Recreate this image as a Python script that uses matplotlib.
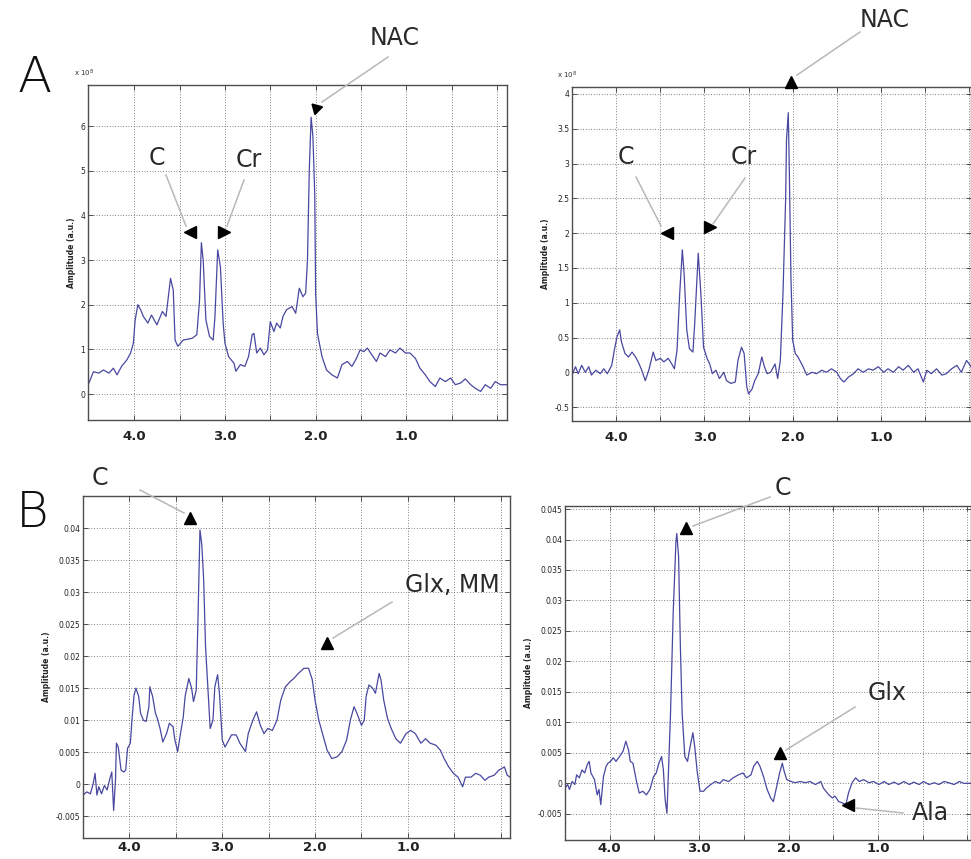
import matplotlib
matplotlib.use("Agg")
import matplotlib.pyplot as plt
from matplotlib.lines import Line2D

W, H = 971, 859

# ---------------- data (ppm, amplitude) ----------------
a1_ppm = [4.50,4.45,4.39,4.34,4.28,4.23,4.19,4.14,4.08,4.04,4.01,3.99,3.96,3.93,3.90,3.85,3.81,3.75,3.69,3.65,
          3.60,3.57,3.55,3.52,3.46,3.36,3.31,3.28,3.26,3.24,3.21,3.17,3.13,3.11,3.08,3.05,3.02,3.00,2.96,2.90,
          2.88,2.83,2.78,2.74,2.70,2.68,2.65,2.61,2.57,2.53,2.50,2.46,2.43,2.39,2.36,2.32,2.26,2.22,2.18,2.14,
          2.11,2.09,2.07,2.05,2.03,2.01,2.00,1.98,1.93,1.88,1.82,1.76,1.71,1.65,1.60,1.55,1.51,1.47,1.43,1.38,
          1.33,1.29,1.23,1.18,1.12,1.07,1.01,0.96,0.90,0.85,0.79,0.74,0.68,0.63,0.57,0.51,0.46,0.40,0.35,0.29,
          0.24,0.18,0.13,0.07,0.02,-0.04,-0.11]
a1_amp = [0.25,0.50,0.47,0.54,0.47,0.58,0.43,0.62,0.77,0.92,1.14,1.66,2.00,1.89,1.74,1.59,1.77,1.55,1.85,1.74,
          2.59,2.33,1.21,1.07,1.21,1.25,1.33,2.11,3.39,3.00,1.66,1.29,1.21,1.74,3.23,2.85,1.59,1.14,0.84,0.69,
          0.51,0.66,0.62,0.84,1.33,1.36,0.92,1.03,0.88,0.99,1.62,1.40,1.59,1.48,1.74,1.89,1.96,1.81,2.37,2.18,
          2.26,3.00,5.01,6.20,5.76,4.49,2.26,1.36,0.84,0.54,0.43,0.36,0.66,0.73,0.62,0.80,0.99,0.95,1.03,0.88,
          0.73,0.92,0.84,0.99,0.92,1.03,0.92,0.92,0.80,0.58,0.43,0.28,0.17,0.36,0.28,0.36,0.21,0.25,0.34,0.21,
          0.13,0.06,0.21,0.13,0.28,0.21,0.21]

a2_ppm = [4.50,4.46,4.43,4.39,4.35,4.31,4.28,4.23,4.18,4.14,4.10,4.05,4.02,3.99,3.96,3.94,3.90,3.86,3.82,3.78,
          3.75,3.71,3.67,3.63,3.58,3.55,3.50,3.46,3.41,3.37,3.34,3.31,3.28,3.25,3.23,3.20,3.17,3.13,3.11,3.07,
          3.04,3.01,2.97,2.94,2.91,2.87,2.83,2.78,2.75,2.70,2.65,2.62,2.58,2.55,2.52,2.50,2.46,2.43,2.39,2.35,
          2.32,2.29,2.25,2.20,2.17,2.14,2.11,2.08,2.07,2.05,2.04,2.02,2.00,1.97,1.94,1.89,1.84,1.78,1.73,1.67,
          1.62,1.56,1.50,1.46,1.42,1.37,1.31,1.26,1.20,1.14,1.09,1.03,0.97,0.92,0.86,0.80,0.75,0.69,0.63,0.58,
          0.52,0.48,0.43,0.37,0.31,0.26,0.20,0.14,0.09,0.03,-0.02]
a2_amp = [-0.04,0.08,-0.02,0.10,0.0,0.08,-0.04,0.03,-0.02,0.05,-0.02,0.10,0.32,0.51,0.61,0.44,0.27,0.22,0.29,0.22,
          0.15,0.03,-0.12,0.03,0.29,0.17,0.20,0.15,0.20,0.12,0.05,0.32,1.13,1.76,1.42,0.61,0.34,0.29,0.70,1.71,
          1.13,0.36,0.20,0.12,-0.02,0.03,-0.09,0.0,-0.12,-0.16,-0.14,0.17,0.36,0.27,-0.21,-0.31,-0.24,-0.12,-0.02,0.22,
          0.08,-0.02,0.0,0.12,-0.09,0.17,1.13,2.48,3.34,3.73,3.05,1.37,0.46,0.27,0.22,0.10,-0.04,0.0,-0.02,0.03,
          0.0,0.05,0.0,-0.09,-0.14,-0.07,-0.02,0.05,0.0,0.05,0.03,0.08,0.0,0.05,0.0,0.08,0.03,0.10,0.0,0.05,
          -0.14,0.03,-0.02,0.05,-0.04,-0.02,0.05,0.10,0.0,0.17,0.08]

b1_ppm = [4.50,4.46,4.42,4.39,4.37,4.35,4.33,4.30,4.27,4.24,4.21,4.19,4.17,4.15,4.14,4.12,4.09,4.06,4.04,4.02,
          3.99,3.97,3.95,3.93,3.90,3.88,3.85,3.82,3.79,3.78,3.75,3.72,3.70,3.67,3.64,3.60,3.57,3.53,3.51,3.48,
          3.45,3.42,3.40,3.36,3.33,3.31,3.28,3.26,3.24,3.22,3.20,3.18,3.15,3.13,3.10,3.08,3.05,3.03,3.00,2.97,
          2.93,2.90,2.85,2.81,2.75,2.72,2.67,2.63,2.59,2.55,2.51,2.46,2.41,2.37,2.32,2.27,2.23,2.18,2.12,2.07,
          2.03,2.00,1.96,1.91,1.87,1.82,1.76,1.71,1.66,1.62,1.58,1.55,1.50,1.47,1.45,1.42,1.38,1.35,1.31,1.29,
          1.26,1.22,1.18,1.13,1.08,1.02,0.97,0.92,0.86,0.81,0.76,0.70,0.65,0.61,0.56,0.51,0.46,0.41,0.38,0.32,
          0.27,0.22,0.17,0.13,0.07,0.02,-0.04,-0.07,-0.10]
b1_amp = [-0.0017,-0.0012,-0.0015,0.0001,0.0017,-0.0017,-0.0004,-0.0015,-0.0002,-0.0009,
          0.0009,0.0019,-0.0041,0.0006,0.0064,0.0058,0.0022,0.0019,0.0022,0.0056,
          0.0064,0.0105,0.0139,0.0150,0.0137,0.0111,0.0100,0.0098,0.0121,0.0152,
          0.0137,0.0111,0.0103,0.0087,0.0066,0.0079,0.0095,0.0090,0.0069,0.0051,
          0.0079,0.0105,0.0137,0.0165,0.0150,0.0129,0.0147,0.0267,0.0397,0.0374,
          0.0319,0.0215,0.0137,0.0087,0.0100,0.0152,0.0171,0.0142,0.0069,0.0058,
          0.0069,0.0077,0.0077,0.0064,0.0051,0.0079,0.0100,0.0113,0.0092,0.0079,
          0.0087,0.0084,0.0100,0.0131,0.0152,0.0160,0.0165,0.0173,0.0181,0.0181,
          0.0163,0.0131,0.0100,0.0074,0.0053,0.0040,0.0043,0.0051,0.0069,0.0100,
          0.0121,0.0111,0.0092,0.0100,0.0137,0.0155,0.0150,0.0142,0.0173,0.0163,
          0.0131,0.0103,0.0087,0.0071,0.0064,0.0079,0.0084,0.0079,0.0064,0.0071,
          0.0064,0.0061,0.0053,0.0040,0.0027,0.0017,0.0011,-0.0004,0.0011,0.0011,
          0.0017,0.0014,0.0006,0.0011,0.0014,0.0022,0.0027,0.0014,0.0011]

b2_ppm = [4.50,4.47,4.45,4.42,4.39,4.37,4.34,4.31,4.28,4.25,4.23,4.21,4.17,4.14,4.12,4.10,4.07,4.04,4.02,3.99,
          3.96,3.93,3.89,3.85,3.82,3.79,3.77,3.74,3.70,3.67,3.63,3.59,3.55,3.51,3.48,3.45,3.42,3.40,3.38,3.36,
          3.35,3.32,3.29,3.26,3.25,3.23,3.21,3.19,3.16,3.13,3.10,3.07,3.05,3.02,2.99,2.95,2.92,2.87,2.82,2.77,
          2.73,2.67,2.62,2.56,2.51,2.47,2.42,2.39,2.35,2.32,2.28,2.24,2.20,2.17,2.14,2.10,2.07,2.05,2.02,1.97,
          1.93,1.87,1.81,1.76,1.70,1.64,1.61,1.55,1.51,1.48,1.44,1.40,1.36,1.33,1.29,1.25,1.21,1.16,1.10,1.05,
          0.99,0.93,0.88,0.82,0.77,0.71,0.65,0.60,0.54,0.49,0.43,0.37,0.32,0.26,0.21,0.15,0.09,0.04,-0.05]
b2_amp = [-0.0008,-0.0002,-0.0010,0.0003,-0.0002,0.0014,0.0009,0.0022,0.0017,0.0031,
          0.0036,0.0017,0.0006,-0.0019,-0.0010,-0.0035,0.0011,0.0028,0.0033,0.0036,
          0.0042,0.0036,0.0044,0.0053,0.0069,0.0055,0.0036,0.0033,0.0003,-0.0016,
          -0.0013,-0.0019,-0.0010,0.0011,0.0017,0.0033,0.0044,0.0022,-0.0027,-0.0049,
          -0.0010,0.0115,0.0280,0.0395,0.0410,0.0373,0.0225,0.0115,0.0044,0.0036,
          0.0061,0.0083,0.0061,0.0017,-0.0013,-0.0013,-0.0008,-0.0002,0.0003,0.0,
          0.0006,0.0003,0.0009,0.0014,0.0017,0.0009,0.0014,0.0028,0.0036,0.0028,
          0.0011,-0.0010,-0.0024,-0.0030,-0.0010,0.0017,0.0033,0.0020,0.0006,0.0003,
          0.0001,0.0003,0.0001,0.0003,-0.0002,0.0003,-0.0008,-0.0019,-0.0024,-0.0021,
          -0.0030,-0.0032,-0.0035,-0.0016,0.0001,0.0009,0.0003,0.0006,0.0001,0.0003,
          -0.0002,0.0003,-0.0002,0.0002,-0.0002,0.0003,-0.0002,0.0002,-0.0002,0.0003,
          -0.0002,0.0001,-0.0002,0.0003,0.0001,-0.0002,0.0003,0.0,0.0]

xticks = [4.0, 3.5, 3.0, 2.5, 2.0, 1.5, 1.0, 0.5, 0.0]
xticklabels = ['4.0', '', '3.0', '', '2.0', '', '1.0', '', '']

a1_yticks = [0, 1, 2, 3, 4, 5, 6]
a2_yticks = [-0.5, 0, 0.5, 1, 1.5, 2, 2.5, 3, 3.5, 4]
b1_yticks = [-0.005, 0, 0.005, 0.01, 0.015, 0.02, 0.025, 0.03, 0.035, 0.04]
b2_yticks = [-0.005, 0, 0.005, 0.01, 0.015, 0.02, 0.025, 0.03, 0.035, 0.04, 0.045]

# annotations: label, text pos (px), line start (px), line end (px), head (data), marker
a1_notes = [("NAC", (395, 38), (388, 57), (322, 102), (2.00, 6.40), (3, 0, 45)),
            ("C", (157, 158), (166, 175), (186, 226), (3.38, 3.62), '<'),
            ("Cr", (249, 160), (244, 180), (227, 226), (3.01, 3.62), '>')]
a2_notes = [("NAC", (885, 20), (860, 32), (797, 75), (2.02, 4.17), '^'),
            ("C", (626, 157), (636, 177), (661, 226), (3.42, 2.00), '<'),
            ("Cr", (744, 157), (745, 178), (713, 224), (2.94, 2.09), '>')]
b1_notes = [("C", (100, 478), (140, 490), (184, 513), (3.35, 0.0416), '^'),
            ("Glx, MM", (452, 585), (392, 602), (333, 638), (1.87, 0.0220), '^')]
b2_notes = [("C", (783, 488), (770, 497), (693, 526), (3.15, 0.0419), '^'),
            ("Glx", (887, 693), (855, 707), (786, 750), (2.10, 0.0049), '^'),
            ("Ala", (930, 813), (903, 813), (856, 808), (1.33, -0.0035), '<')]

LINE_C = '#4848a0'


def fx(px):
    return px / W


def fy(py):
    return 1 - py / H


def make_ax(fig, box, ppm, amp, xlim, ylim, yticks, ylabels, notes, xpad, expo=None):
    l, t, r, b = box
    ax = fig.add_axes([fx(l), fy(b), (r - l) / W, (b - t) / H])
    ax.plot(ppm, amp, color=LINE_C, lw=0.9)
    ax.set_xlim(*xlim)
    ax.set_ylim(*ylim)
    ax.set_xticks(xticks)
    ax.set_xticklabels(xticklabels, fontsize=9.5, fontweight='bold', color='#222222')
    ax.set_yticks(yticks)
    ax.set_yticklabels(ylabels, fontsize=5.5, color='#222222')
    ax.tick_params(axis='both', direction='in', top=True, right=True, length=3.5,
                   width=0.7, color='0.3')
    ax.tick_params(axis='x', pad=xpad)
    ax.tick_params(axis='y', pad=2)
    ax.grid(True, linestyle=(0, (1, 2.2)), color='0.35', linewidth=0.6)
    for s in ax.spines.values():
        s.set_color('0.3')
        s.set_linewidth(1.0)
    ax.set_ylabel('Amplitude (a.u.)', fontsize=5.5, fontweight='bold', labelpad=3, color='#222222')
    if expo is not None:
        fig.text(fx(expo[0]), fy(expo[1]), r'x 10$^{8}$', fontsize=5, ha='left', va='center', color='#333333')
    for lab, tpos, ls, le, head, mk in notes:
        fig.text(fx(tpos[0]), fy(tpos[1]), lab, fontsize=17, ha='center', va='center',
                 color='#2a2a2a', fontweight='normal')
        fig.add_artist(Line2D([fx(ls[0]), fx(le[0])], [fy(ls[1]), fy(le[1])],
                              color='#b8b8b8', lw=1.1))
        ax.plot([head[0]], [head[1]], marker=mk, color='black', markersize=9,
                linestyle='none', clip_on=False, zorder=5)
    return ax


fig = plt.figure(figsize=(W / 100, H / 100), dpi=100)

make_ax(fig, (88, 85, 507, 420), a1_ppm, a1_amp, (4.51, -0.11), (-0.58, 6.92),
        a1_yticks, [f'{v:g}' for v in a1_yticks], a1_notes, 7, expo=(74, 73))
make_ax(fig, (572, 87, 971, 421), a2_ppm, a2_amp, (4.50, -0.02), (-0.70, 4.10),
        a2_yticks, [f'{v:g}' for v in a2_yticks], a2_notes, 7, expo=(557, 75))
make_ax(fig, (83, 496, 510, 838), b1_ppm, b1_amp, (4.50, -0.10), (-0.0084, 0.045),
        b1_yticks, [f'{v:g}' for v in b1_yticks], b1_notes, 2)
make_ax(fig, (565, 506, 971, 840), b2_ppm, b2_amp, (4.50, -0.04), (-0.0093, 0.0455),
        b2_yticks, [f'{v:g}' for v in b2_yticks], b2_notes, 1.5)

fig.text(fx(35), fy(78), 'A', fontsize=36, ha='center', va='center', color='#111111', fontweight='light')
fig.text(fx(32), fy(513), 'B', fontsize=36, ha='center', va='center', color='#111111', fontweight='light')

fig.savefig('out.png', dpi=100)
